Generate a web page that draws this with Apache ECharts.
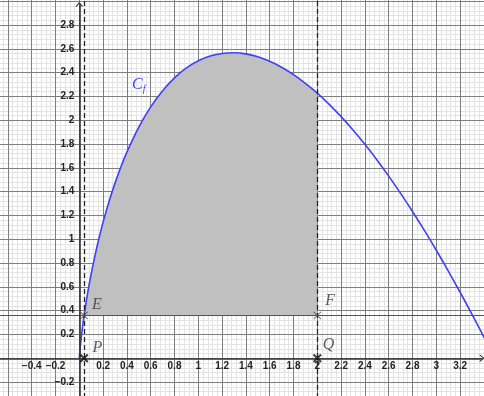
<!DOCTYPE html>
<html>
<head>
<meta charset="utf-8">
<script src="https://cdn.jsdelivr.net/npm/echarts@6/dist/echarts.min.js"></script>
<style>
html,body{margin:0;padding:0;background:#fff;}
#c{width:484px;height:396px;}
</style>
</head>
<body>
<div id="c"></div>
<script>
// Curve C_f: x positions and values
const curveX = [0,0.005,0.01,0.02,0.03,0.04,0.06,0.08,0.1,0.13,0.16,0.2,0.25,0.3,0.35,0.4,
  0.5,0.6,0.7,0.8,0.9,1.0,1.1,1.2,1.3,1.4,1.5,1.6,1.7,1.8,1.9,2.0,2.1,2.2,2.3,2.4,2.5,
  2.6,2.7,2.8,2.9,3.0,3.1,3.2,3.3,3.4,3.5];
const curveY = [0,0.065,0.117,0.206,0.285,0.357,0.488,0.604,0.71,0.855,0.986,1.144,1.318,1.472,1.61,1.733,
  1.943,2.113,2.249,2.357,2.44,2.5,2.54,2.562,2.568,2.558,2.534,2.496,2.446,2.384,2.311,2.228,2.134,2.031,1.919,1.798,1.669,
  1.531,1.386,1.234,1.075,0.908,0.735,0.555,0.37,0.178,-0.02];

// Region bounds and points
const xLeft = 0.04;
const xRight = 2;
const level = 0.36;
const pointNames = ['E','F','P','Q'];
const pointX = [0.04, 2, 0.04, 2];
const pointY = [0.36, 0.36, 0, 0];

// Axis ranges
const xMin = -0.8, xMax = 3.6, yMin = -0.4, yMax = 3.2;
const majorStep = 0.2, minorStep = 0.04;

const curveData = curveX.map((x, i) => [x, curveY[i]]);
const fillPts = [];
curveX.forEach((x, i) => { if (x >= xLeft - 1e-9 && x <= xRight + 1e-9) fillPts.push([x, curveY[i]]); });
fillPts.push([xRight, level]);
fillPts.push([xLeft, level]);

const chevron = 'path://M0,5 L4,0 L8,5 L6.7,5 L4,1.6 L1.3,5 Z';
const cross = 'path://M0,1.6 L1.6,0 L5,3.4 L8.4,0 L10,1.6 L6.6,5 L10,8.4 L8.4,10 L5,6.6 L1.6,10 L0,8.4 L3.4,5 Z';
const crossThin = 'path://M0,0.9 L0.9,0 L5,4.1 L9.1,0 L10,0.9 L5.9,5 L10,9.1 L9.1,10 L5,5.9 L0.9,10 L0,9.1 L4.1,5 Z';

function fmt(v, lo, hi) {
  const r = parseFloat(Number(v).toFixed(3));
  if (Math.abs(r) < 1e-9 || r < lo || r > hi) return '';
  return String(r).replace('-', '\u2212');
}

const chart = echarts.init(document.getElementById('c'), null, {renderer: 'canvas'});
const labelFont = {fontFamily: 'Liberation Sans, Arial, sans-serif', fontWeight: 'bold', fontSize: 10, color: '#222'};
const serif = 'Liberation Serif, Times New Roman, serif';

// pixel layout of the plotting window (grid extends past the canvas edges)
const G = {left: -15.9, right: -23.7, top: -22.5, bottom: -9.9};
const zeroFromBottom = 37.7; // y = 0 line distance from bottom edge
const zeroFromLeft = 79.3;   // x = 0 line distance from left edge

const hidden = {show: false};

chart.setOption({
  animation: false,
  backgroundColor: '#ffffff',
  grid: [
    Object.assign({containLabel: false, outerBoundsMode: 'none'}, G),
    {left: G.left, right: G.right, top: G.top, bottom: zeroFromBottom, containLabel: false, outerBoundsMode: 'none'},
    {left: zeroFromLeft, right: G.right, top: G.top, bottom: G.bottom, containLabel: false, outerBoundsMode: 'none'}
  ],
  xAxis: [
    {type: 'value', gridIndex: 0, min: xMin, max: xMax, interval: majorStep, z: 1,
     axisLine: {show: false, onZero: false}, axisTick: hidden, axisLabel: hidden,
     splitLine: {show: true, lineStyle: {color: '#7e7e7e', width: 1}}},
    {type: 'value', gridIndex: 0, min: xMin, max: xMax, interval: minorStep, z: 0,
     axisLine: {show: false, onZero: false}, axisTick: hidden, axisLabel: hidden,
     splitLine: {show: true, lineStyle: {color: '#e3e3e3', width: 1}}},
    {type: 'value', gridIndex: 1, position: 'bottom', min: xMin, max: xMax, interval: majorStep, z: 6,
     axisLine: {show: false, onZero: false}, axisTick: hidden, splitLine: hidden,
     axisLabel: Object.assign({show: true, margin: 3, hideOverlap: false,
       formatter: v => fmt(v, -0.5, 3.3)}, labelFont)},
    {type: 'value', gridIndex: 2, min: 0, max: 1, show: false}
  ],
  yAxis: [
    {type: 'value', gridIndex: 0, min: yMin, max: yMax, interval: majorStep, z: 1,
     axisLine: {show: false, onZero: false}, axisTick: hidden, axisLabel: hidden,
     splitLine: {show: true, lineStyle: {color: '#7e7e7e', width: 1}}},
    {type: 'value', gridIndex: 0, min: yMin, max: yMax, interval: minorStep, z: 0,
     axisLine: {show: false, onZero: false}, axisTick: hidden, axisLabel: hidden,
     splitLine: {show: true, lineStyle: {color: '#e3e3e3', width: 1}}},
    {type: 'value', gridIndex: 1, min: 0, max: 1, show: false},
    {type: 'value', gridIndex: 2, position: 'left', min: yMin, max: yMax, interval: majorStep, z: 6,
     axisLine: {show: false, onZero: false}, axisTick: hidden, splitLine: hidden,
     axisLabel: Object.assign({show: true, margin: 5, hideOverlap: false,
       formatter: v => fmt(v, -0.3, 2.9)}, labelFont)}
  ],
  series: [
    {
      type: 'custom', z: 2, silent: true, xAxisIndex: 0, yAxisIndex: 0,
      data: [0],
      renderItem: function (params, api) {
        const pts = fillPts.map(p => api.coord(p));
        return {type: 'polygon', shape: {points: pts}, style: {fill: '#c0c0c0', stroke: null}};
      }
    },
    {
      type: 'line', z: 3, data: [], silent: true, xAxisIndex: 0, yAxisIndex: 0,
      markLine: {
        silent: true, animation: false,
        symbol: ['none', 'none'],
        label: {show: false},
        emphasis: {disabled: true},
        data: [
          [{coord: [xLeft, yMin], lineStyle: {color: '#222', type: [5, 3], width: 1.3}},
           {coord: [xLeft, yMax]}],
          [{coord: [xRight, yMin], lineStyle: {color: '#222', type: [5, 3], width: 1.3}},
           {coord: [xRight, yMax]}],
          [{coord: [xMin, level], lineStyle: {color: '#555', type: 'solid', width: 1.2}},
           {coord: [xMax, level]}],
          [{coord: [xMin, 0], lineStyle: {color: '#333', type: 'solid', width: 1.6}, itemStyle: {color: '#333'}},
           {coord: [3.385, 0], symbol: chevron, symbolSize: [8, 5]}],
          [{coord: [0, yMin], lineStyle: {color: '#333', type: 'solid', width: 1.6}, itemStyle: {color: '#333'}},
           {coord: [0, 2.975], symbol: chevron, symbolSize: [8, 5]}]
        ]
      }
    },
    {
      type: 'line', z: 4, data: curveData, showSymbol: false, smooth: 0.3,
      xAxisIndex: 0, yAxisIndex: 0,
      clip: true, silent: true,
      lineStyle: {color: '#4040f4', width: 1.6},
      markPoint: {
        silent: true, symbol: 'circle', symbolSize: 0,
        data: [{coord: [0.5, 2.3]}],
        label: {show: true, position: 'inside',
          formatter: '{c|C}{s|f}',
          rich: {
            c: {fontFamily: serif, fontStyle: 'italic', fontSize: 16, color: '#4040f4'},
            s: {fontFamily: serif, fontStyle: 'italic', fontSize: 10, color: '#4040f4', verticalAlign: 'bottom', padding: [9, 0, 0, 0]}
          }
        }
      }
    },
    {
      type: 'scatter', z: 5, silent: true, xAxisIndex: 0, yAxisIndex: 0,
      data: pointNames.map((n, i) => ({
        name: n, value: [pointX[i], pointY[i]],
        symbol: i < 2 ? crossThin : cross,
        symbolSize: i < 2 ? 8 : 9,
        itemStyle: {color: i < 2 ? '#555' : '#111'},
        label: {offset: i === 0 ? [0, -11] : i === 1 ? [0, -15] : i === 2 ? [0, -11] : [-3, -14]}
      })),
      label: {show: true, position: 'right', distance: 4, formatter: '{b}',
        fontFamily: serif, fontStyle: 'italic', fontSize: 16, color: '#333'}
    }
  ]
});
</script>
</body>
</html>
